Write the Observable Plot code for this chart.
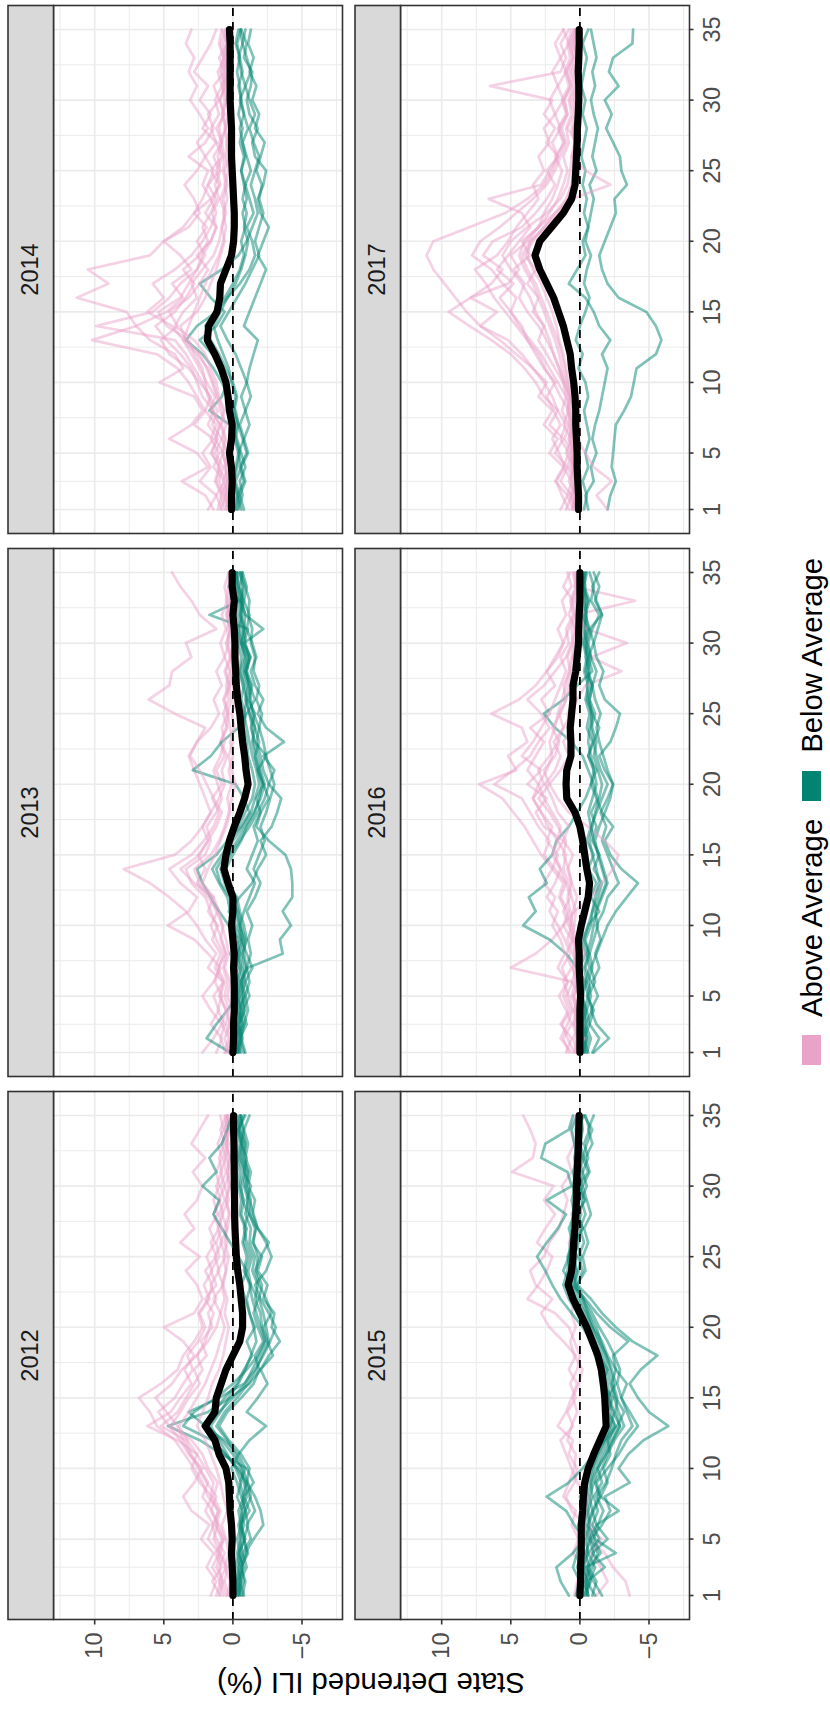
<!DOCTYPE html>
<html>
<head>
<meta charset="utf-8">
<script src="https://cdn.jsdelivr.net/npm/d3@7"></script>
<script src="https://cdn.jsdelivr.net/npm/@observablehq/plot@0.6"></script>
<style>
html, body { margin: 0; padding: 0; background: #fff; overflow: hidden; width: 830px; height: 1709px; }
#fig { position: absolute; left: 0; top: 0; width: 1709px; height: 830px; background: #fff;
  transform-origin: 0 0; transform: translate(0px, 1709px) rotate(-90deg);
  font-family: "Liberation Sans", Arial, Helvetica, sans-serif; }
#chart { position: absolute; left: 0; top: 0; }
#ytitle { position: absolute; left: 26px; top: 371px; transform: translate(-50%, -50%) rotate(-90deg);
  white-space: nowrap; font-size: 29.3px; color: #000; line-height: 1; }
#legend { position: absolute; left: 644px; top: 802px; height: 19px; display: flex; align-items: center; }
#legend .key { width: 30px; height: 19px; display: inline-block; }
#legend .lab { font-size: 29.3px; line-height: 19px; margin: 0 18px; color: #000; white-space: nowrap; }
</style>
</head>
<body>
<div id="fig">
  <div id="chart"></div>
  <div id="ytitle">State Detrended ILI (%)</div>
  <div id="legend"></div>
</div>
<script>
// ---------- data ----------
const groupNames = ["Above Average", "Below Average"];
const groupColors = ["#e9a3c9", "#018571"];
const years = [2012, 2013, 2014, 2015, 2016, 2017];
const weeks = [1,2,3,4,5,6,7,8,9,10,11,12,13,14,15,16,17,18,19,20,21,22,23,24,25,26,27,28,29,30,31,32,33,34,35];
const majorX = [1, 5, 10, 15, 20, 25, 30, 35];
const minorX = [3, 7.5, 12.5, 17.5, 22.5, 27.5, 32.5];
const majorY = [-5, 0, 5, 10];
const minorY = [-7.5, -2.5, 2.5, 7.5, 12.5];

const mean2012 = [0.0,0.0,0.05,0.1,0.05, 0.1,0.2,0.25,0.3,0.5, 1.0,1.3,2.0,1.3,1.2, 0.85,0.5,0.0,-0.5,-0.7, -0.7,-0.6,-0.5,-0.35,-0.25, -0.2,-0.15,-0.12,-0.12,-0.1, -0.1,-0.08,-0.08,-0.05,-0.05];
const above2012 = [
 [0.5,0.8,1.0,0.6,1.2, 1.5,1.0,1.8,2.2,2.8, 3.5,4.2,5.5,6.0,6.8, 5.2,4.0,3.6,2.8,2.2, 2.5,1.8,1.5,2.0,1.2, 1.6,1.0,1.4,0.9,1.2, 0.8,1.0,0.6,0.9,0.5],
 [1.2,0.9,1.5,1.0,1.8, 1.4,2.0,1.5,2.4,3.0, 2.6,4.0,6.2,4.5,3.8, 3.0,3.5,2.8,3.6,5.0, 2.8,2.2,2.6,3.4,2.4, 3.8,2.8,3.5,2.6,2.2, 2.9,2.0,3.0,2.4,1.8],
 [0.3,0.6,0.4,0.9,0.7, 1.2,0.9,1.4,1.1,1.8, 2.2,3.0,4.5,3.8,3.2, 2.4,2.8,1.9,2.3,1.5, 1.8,1.2,1.6,1.0,1.3, 0.8,1.1,0.7,1.0,0.6, 0.9,0.5,0.8,0.4,0.6],
 [1.6,1.2,1.9,1.4,2.3, 1.7,3.0,3.6,2.8,2.2, 3.2,3.8,4.6,5.4,4.2, 3.6,2.9,3.3,2.5,2.0, 2.4,1.7,2.1,1.5,1.9, 1.3,1.7,1.1,1.4,1.0, 1.2,0.8,1.1,0.7,0.9],
 [0.4,0.2,0.6,0.3,0.5, 0.8,0.4,0.7,0.9,1.2, 1.6,2.0,2.6,2.2,1.8, 1.5,1.0,0.7,0.5,0.3, 0.6,0.4,0.7,0.5,0.3, 0.6,0.4,0.2,0.5,0.3, 0.4,0.2,0.5,0.3,0.4],
 [0.9,1.5,0.8,1.3,0.6, 1.0,1.6,1.2,1.9,2.5, 3.1,3.6,4.0,4.8,5.6, 4.4,3.7,2.6,1.8,1.2, 0.9,1.4,0.7,1.1,0.5, 0.9,0.4,0.8,0.3,0.6, 0.2,0.5,0.3,0.6,0.4],
 [0.7,1.0,0.5,1.1,0.8, 1.3,1.1,1.6,1.4,2.0, 2.6,3.3,3.9,3.2,2.6, 2.0,1.6,1.2,0.9,0.6, 0.9,0.6,0.8,0.5,0.7, 0.4,0.6,0.3,0.5,0.2, 0.4,0.3,0.5,0.2,0.4],
 [1.0,0.7,1.2,0.9,1.4, 1.1,1.5,2.2,1.8,2.4, 3.0,3.4,5.2,4.0,3.4, 2.8,2.2,2.6,2.0,1.7, 1.4,2.0,1.2,1.6,1.0, 1.2,0.8,1.0,0.6,0.9, 0.5,0.7,0.4,0.6,0.3]
];
const below2012 = [
 [-0.5,-0.3,-0.8,-0.4,-0.9, -0.6,-1.2,-0.8,-1.5,-1.0, 0.8,2.4,4.7,1.8,0.2, -1.2,-2.0,-2.6,-3.4,-2.8, -3.0,-2.2,-2.5,-1.8,-2.1, -1.4,-1.7,-1.2,-1.0,-1.3, -0.8,-1.0,-0.6,-0.8,-0.5],
 [-0.2,-0.6,-0.4,-0.9,-1.5, -2.2,-2.0,-1.6,-1.0,-0.4, 0.6,1.4,2.0,3.2,1.0, -0.8,-1.6,-2.2,-2.7,-3.1, -2.6,-2.0,-1.6,-2.4,-2.8, -2.4,-1.8,-1.5,-1.2,-0.9, -1.1,-0.7,-0.9,-0.5,-0.3],
 [-0.8,-0.5,-1.0,-0.7,-1.3, -1.0,-1.6,-1.2,-0.9,-0.3, 0.5,1.5,3.6,2.8,1.2, 0.0,-1.0,-1.8,-2.3,-2.0, -1.7,-1.4,-1.2,-0.9,-1.2, -0.8,-1.0,-0.6,-0.8,-0.5, -0.7,-0.4,-0.6,-0.3,-0.5],
 [-0.4,-0.8,-0.6,-1.1,-0.8, -0.5,-0.9,-0.6,-0.3,0.1, -0.4,-1.2,-2.4,-1.0,-1.8, -2.5,-2.0,-2.9,-2.5,-2.2, -2.8,-2.4,-1.9,-1.6,-2.0, -2.6,-1.8,-1.4,-1.6,-1.1, -1.3,-0.9,-1.1,-0.8,-1.2],
 [-0.6,-0.4,-0.7,-0.5,-0.8, -0.6,-0.9,-0.7,-1.0,-1.2, -0.6,0.3,1.0,0.4,-0.6, -1.5,-1.9,-1.6,-2.2,-1.8, -1.5,-1.8,-1.3,-1.1,-1.4, -1.0,-0.8,-1.1,-0.7,-0.6, -0.9,-0.5,-0.7,-0.4,-0.8],
 [-0.3,-0.2,-0.5,-0.3,-0.6, -0.4,-0.7,-0.3,-0.6,-0.2, 0.4,1.0,1.6,0.9,0.3, -0.4,-0.9,-1.3,-1.7,-1.5, -1.2,-1.0,-1.3,-0.8,-1.0, -0.7,-0.9,-0.5,-0.6,-0.4, -0.5,-0.3,-0.5,-0.4,-0.9],
 [-0.2,-0.4,-0.1,-0.5,-0.3, -0.6,-0.4,-0.8,-0.5,-0.9, -0.4,0.6,2.2,1.4,0.6, -0.3,-0.8,-1.4,-1.0,-1.6, -1.2,-0.9,-0.6,-1.0,-0.4, 0.2,0.8,1.4,1.0,2.2, 1.2,1.7,0.8,0.4,0.1],
 [-0.4,-0.6,-0.3,-0.7,-0.5, -0.8,-0.6,-1.0,-0.8,-0.6, 0.0,0.8,1.8,1.0,0.0, -0.9,-1.4,-1.9,-2.4,-2.1, -2.0,-1.6,-1.8,-1.4,-1.6, -1.2,-1.3,-0.9,-1.1,-0.8, -0.9,-0.6,-0.7,-0.5,-0.6],
 [-0.7,-0.9,-0.6,-1.0,-0.8, -1.1,-0.9,-1.3,-1.1,-0.7, -0.2,0.4,1.2,0.6,-0.3, -1.1,-1.7,-2.1,-2.6,-2.4, -2.2,-1.9,-2.1,-1.7,-1.8, -1.5,-1.6,-1.2,-1.3,-1.0, -1.1,-0.8,-0.9,-0.7,-0.6]
];

const mean2013 = [0.0,-0.05,-0.05,-0.1,-0.1, -0.1,-0.05,-0.1,0.0,0.1, 0.0,0.0,0.35,0.65,0.5, 0.25,-0.1,-0.5,-0.85,-1.1, -0.95,-0.85,-0.7,-0.6,-0.5, -0.35,-0.25,-0.2,-0.15,-0.15, -0.1,0.0,-0.1,0.05,0.05];
const above2013 = [
 [1.2,0.8,1.6,1.0,1.4, 0.7,1.8,1.2,2.0,2.6, 3.4,4.6,6.0,7.9,4.2, 3.0,2.2,1.6,1.0,0.6, 0.8,0.4,0.9,0.5,0.3, 0.6,0.2,0.5,0.1,0.4, 0.2,0.5,0.3,0.1,0.3],
 [0.5,0.9,0.6,1.1,0.8, 1.3,1.0,0.7,1.2,1.6, 1.1,1.8,2.6,2.0,2.5, 1.8,2.2,1.6,2.0,2.4, 2.8,3.2,2.6,2.0,4.2, 6.1,4.6,4.4,3.0,3.4, 1.2,2.4,3.0,3.8,4.4],
 [2.2,1.4,0.8,1.6,2.2, 1.4,0.9,1.8,2.8,4.7, 3.2,2.6,3.8,4.6,3.0, 2.1,1.4,1.0,1.5,0.8, 1.2,0.6,0.9,0.4,0.7, 0.3,0.5,0.2,0.6,0.3, 0.4,0.2,0.5,0.3,0.2],
 [0.3,0.6,0.2,0.5,0.9, 0.6,1.1,0.5,0.8,1.2, 1.6,2.0,3.0,3.4,2.0, 1.6,1.9,1.2,0.8,1.1, 1.4,0.9,0.6,0.8,0.4, 0.7,0.3,0.6,0.2,0.5, 0.1,0.4,0.2,0.0,0.3],
 [0.1,-0.2,0.3,0.0,0.4, 0.2,0.6,0.3,0.5,0.8, 1.0,1.4,2.2,1.8,1.3, 0.9,0.5,0.2,0.4,0.1, 0.3,0.0,0.2,-0.1,0.1, -0.2,0.0,0.2,-0.1,0.1, 0.0,-0.2,0.1,-0.1,0.2],
 [0.6,0.3,0.8,0.5,1.0, 0.7,1.3,0.9,1.5,1.1, 1.8,1.4,2.8,3.8,2.4, 1.8,1.2,0.8,1.4,1.9, 2.4,3.1,2.6,1.6,1.0, 1.4,0.8,1.2,0.6,0.9, 0.5,0.8,0.4,0.6,0.3],
 [0.4,0.2,0.5,0.3,0.6, 0.4,0.7,0.5,0.9,0.7, 1.2,1.6,2.4,2.8,1.6, 1.0,0.6,0.3,0.1,-0.2, 0.1,0.3,0.0,0.2,0.4, 0.1,0.3,-0.1,0.2,0.0, 0.2,0.4,0.1,0.3,0.1]
];
const below2013 = [
 [-0.3,-0.6,-0.4,-0.9,-0.7, -0.5,-1.1,-3.6,-3.4,-4.2, -3.6,-4.3,-4.3,-4.2,-3.8, -2.6,-1.7,-2.0,-2.6,-2.2, -1.8,-2.4,-1.6,-1.3,-1.6, -1.1,-1.3,-0.9,-1.1,-0.7, -0.9,-0.6,-0.8,-0.5,-0.7],
 [-0.8,-0.5,-1.0,-0.7,-1.2, -0.9,-1.4,-1.0,-0.6,-0.2, 0.3,-0.5,-1.4,-1.8,-2.4, -2.0,-2.8,-3.2,-3.5,-2.6, -3.0,-2.2,-3.7,-2.4,-1.8, -2.2,-1.6,-1.3,-1.7,-1.4, -1.0,-1.2,-0.8,-1.0,-0.7],
 [0.2,1.9,1.2,0.4,-0.3, 0.1,-0.4,0.2,-0.5,0.3, 1.0,1.6,2.2,2.6,1.2, 0.4,-0.6,-1.2,-0.8,-0.2, 2.9,1.6,0.8,-0.4,-1.0, -1.6,-1.2,-0.9,-1.3,-0.8, -1.1,1.7,-0.5,0.3,-0.2],
 [-0.5,-0.3,-0.7,-0.4,-0.8, -0.6,-0.9,-0.7,-1.0,-0.8, -0.5,-0.3,0.4,0.8,0.2, -0.5,-1.2,-1.8,-2.3,-2.6, -2.2,-2.0,-1.7,-1.9,-1.5, -1.2,-1.4,-1.0,-1.2,-0.8, -2.2,-0.9,-0.6,-0.8,-0.5],
 [-0.2,-0.5,-0.3,-0.6,-0.4, -0.7,-0.5,-0.3,-0.6,-0.4, -0.2,0.2,0.9,1.2,0.6, 0.0,-0.7,-1.3,-1.6,-1.9, -1.7,-1.4,-1.2,-1.0,-0.8, -1.0,-0.7,-0.5,-0.8,-0.6, -0.4,-0.7,-0.5,-0.3,-0.2],
 [-0.9,-0.6,-0.8,-1.1,-0.9, -1.2,-1.0,-1.3,-1.1,-1.4, -1.0,-1.6,-2.0,-1.5,-1.9, -2.3,-2.0,-2.4,-2.7,-3.0, -2.7,-2.4,-2.2,-1.9,-2.1, -1.7,-1.9,-1.5,-1.6,-1.3, -1.4,-1.1,-1.2,-0.9,-0.6],
 [-0.4,-0.2,-0.6,-0.3,-0.5, -0.3,-0.6,-0.4,-0.7,-0.5, -0.8,-1.2,-1.6,-1.0,-1.4, -1.8,-1.5,-2.0,-1.7,-2.2, -1.9,-1.6,-1.4,-1.6,-1.2, -0.9,-1.1,-0.8,-1.0,-0.6, -0.8,-0.5,-0.7,-0.4,-0.3],
 [-0.4,-0.7,-0.5,-0.8,-0.6, -0.9,-0.7,-0.6,-0.8,-0.5, -0.3,0.1,0.6,0.9,0.3, -0.3,-0.9,-1.5,-2.0,-2.3, -2.0,-1.8,-1.5,-1.4,-1.2, -1.0,-0.9,-0.7,-0.9,-0.6, -0.7,-0.5,-0.6,-0.4,-0.3],
 [-0.6,-0.4,-0.8,-0.5,-0.9, -0.7,-1.0,-0.8,-0.9,-0.6, -0.4,-0.1,0.2,0.5,0.0, -0.6,-1.0,-1.6,-1.9,-2.1, -1.8,-1.6,-1.9,-1.6,-1.4, -1.3,-1.1,-1.0,-1.2,-0.9, -0.8,-0.9,-0.6,-0.7,-0.5],
 [-0.3,-0.2,-0.4,-0.6,-0.3, -0.5,-0.2,-0.5,-0.3,-0.1, 0.2,0.4,1.0,1.5,0.8, 0.2,-0.4,-0.9,-1.4,-1.6, -1.4,-1.1,-1.0,-0.8,-0.9, -0.6,-0.8,-0.5,-0.6,-0.4, -0.5,-0.3,-0.4,-0.2,-0.3]
];

const mean2014 = [0.1,0.1,0.05,0.1,0.25, 0.1,0.05,0.25,0.35,0.5, 0.85,1.3,1.85,1.75,1.15, 0.95,0.9,0.5,0.1,-0.05, -0.1,-0.1,-0.05,0.0,0.05, 0.1,0.1,0.1,0.15,0.2, 0.2,0.2,0.2,0.2,0.25];
const above2014 = [
 [0.8,1.2,0.6,1.4,1.0, 1.6,1.2,2.0,2.6,3.2, 4.0,5.5,10.2,7.0,7.7, 11.3,9.0,10.5,6.0,5.0, 3.6,2.8,2.2,1.8,1.4, 2.0,1.2,1.6,1.0,1.3, 0.8,1.1,0.6,0.9,0.5],
 [1.4,2.0,3.7,1.8,2.6, 4.6,3.0,2.2,2.8,5.3, 3.6,4.2,6.0,7.0,4.8, 3.6,4.4,3.0,3.8,5.0, 3.2,2.4,2.8,3.5,2.6, 2.0,2.6,1.8,2.4,3.1, 2.6,3.2,2.8,3.4,3.0],
 [0.4,0.7,1.2,0.9,1.6, 1.1,1.8,1.4,2.2,2.6, 3.0,3.8,4.8,5.6,4.2, 3.4,2.8,3.6,2.4,1.8, 2.2,1.6,1.2,1.8,1.0, 1.4,0.8,1.2,0.6,1.0, 0.5,0.8,0.4,0.7,0.3],
 [1.8,1.2,2.4,1.6,2.2, 1.4,2.8,2.0,1.6,2.4, 3.2,4.6,5.2,4.0,4.6, 3.2,2.4,1.8,2.6,1.6, 1.2,2.0,1.4,1.0,1.6, 0.8,1.2,2.2,1.6,2.4, 1.8,2.8,2.2,1.6,1.2],
 [0.2,0.5,0.3,0.6,0.4, 0.8,0.5,0.9,1.2,1.5, 1.9,2.4,3.4,3.8,2.6, 2.0,1.6,1.2,0.9,0.6, 0.8,0.5,0.7,0.4,0.6, 0.3,0.5,0.2,0.4,0.2, 0.3,0.1,0.4,0.2,0.3],
 [0.9,0.5,1.0,0.7,1.3, 0.8,1.5,1.1,1.7,2.2, 2.8,3.4,4.2,9.9,5.8, 4.6,3.8,2.6,2.0,2.6, 1.9,2.8,1.6,2.2,1.8, 3.2,2.0,1.4,1.8,1.0, 1.4,0.6,1.0,0.4,0.8],
 [0.6,0.9,0.4,1.1,0.7, 1.3,0.9,1.6,1.3,1.9, 2.4,3.0,3.6,4.4,6.2, 5.0,5.8,4.2,3.0,2.2, 1.6,1.2,1.6,0.9,1.2, 0.7,1.0,0.5,0.8,0.4, 0.7,0.3,0.6,0.2,0.4],
 [0.5,0.3,0.7,0.4,0.8, 0.6,0.9,0.7,1.1,1.4, 1.8,2.6,3.6,3.2,2.8, 2.4,2.0,1.5,1.0,0.7, 0.5,0.7,0.4,0.6,0.3, 0.5,0.4,0.6,0.3,0.5, 0.4,0.6,0.3,0.5,0.4],
 [0.3,0.6,0.4,0.5,0.7, 0.5,0.8,0.6,1.0,1.2, 1.6,2.0,2.8,4.2,3.6, 2.6,3.0,2.2,1.4,1.0, 0.8,0.6,0.9,0.5,0.7, 0.6,0.8,0.5,0.7,0.6, 0.8,0.5,0.7,0.4,0.6],
 [1.1,0.8,1.3,1.0,1.5, 1.2,1.0,1.4,1.8,2.0, 2.2,2.8,3.2,4.8,5.4, 3.8,3.2,2.6,2.2,1.6, 1.2,1.5,1.0,1.3,0.9, 1.1,0.8,1.0,0.7,0.9, 0.6,0.9,0.7,1.0,0.8]
];
const below2014 = [
 [-0.3,-0.5,-0.2,-0.6,-0.4, -0.8,-0.5,-0.9,-0.6,-1.0, -1.2,-1.5,-1.8,-0.8,-1.2, -1.6,-2.0,-2.4,-1.8,-2.2, -2.6,-2.0,-1.8,-2.2,-2.4, -1.6,-1.4,-1.8,-1.2,-1.0, -1.3,-1.4,-0.8,-1.0,-0.6],
 [-0.6,-0.3,-0.8,-0.5,-1.0, -0.7,-0.4,-0.2,0.3,0.8, 1.4,2.2,3.4,2.6,1.2, 0.4,-0.5,-1.2,-1.6,-1.4, -1.0,-1.5,-1.2,-0.9,-1.3, -1.0,-0.7,-1.1,-0.8,-0.5, -0.9,-0.6,-0.4,-0.7,-0.5],
 [-0.4,-0.7,-0.5,-0.9,-0.6, -0.3,0.2,1.7,0.8,0.4, 0.9,1.5,2.4,1.2,0.6, 1.6,2.4,0.8,-0.4,-1.0, -1.4,-1.8,-1.6,-1.3,-1.6, -1.9,-1.5,-1.2,-1.6,-1.2, -0.9,-1.3,-1.0,-0.7,-0.9],
 [-0.8,-0.5,-0.9,-0.6,-1.1, -0.8,-1.2,-0.9,-1.3,-1.0, -0.6,-0.2,0.4,0.9,0.3, -0.3,-0.9,-1.4,-1.9,-1.6, -1.9,-2.2,-1.9,-2.1,-1.7, -2.0,-2.3,-1.6,-1.9,-1.4, -1.7,-1.2,-1.5,-1.1,-1.3],
 [-0.2,-0.4,-0.1,-0.3,-0.5, -0.2,-0.4,-0.1,-0.3,0.0, 0.5,1.0,1.6,2.0,1.3, 0.6,0.0,-0.5,-0.8,-0.6, -0.9,-0.7,-1.0,-0.8,-0.6, -0.9,-0.7,-0.5,-0.8,-0.6, -0.4,-0.7,-0.5,-0.3,-0.6],
 [-0.1,-0.3,0.0,-0.2,-0.4, -0.1,-0.3,0.0,-0.2,0.1, 0.3,0.7,1.1,1.4,0.9, 0.4,-0.2,-0.6,-0.9,-1.1, -0.8,-1.0,-0.7,-0.9,-0.6, -0.8,-0.5,-0.7,-0.4,-0.6, -0.5,-0.3,-0.5,-0.2,-0.4]
];

const mean2015 = [0.0,-0.05,-0.05,-0.1,-0.1, -0.1,-0.2,-0.25,-0.35,-0.6, -1.0,-1.45,-1.9,-1.85,-1.8, -1.7,-1.55,-1.3,-0.9,-0.5, 0.0,0.5,0.85,0.6,0.5, 0.45,0.35,0.3,0.25,0.25, 0.2,0.15,0.1,0.08,0.05];
const above2015 = [
 [-3.6,-3.3,-2.4,-1.8,-0.6, -0.9,-0.3,-0.7,0.2,0.6, 1.0,1.4,0.5,0.9,0.3, 0.7,0.2,0.0,0.4,0.8, 1.8,3.8,3.0,2.4,2.0, 3.1,2.5,1.8,2.6,1.9, 4.9,3.4,3.2,3.6,4.1],
 [-1.2,-2.0,-1.5,-0.8,-1.6, -0.4,0.6,1.0,0.4,0.2, 0.8,0.5,1.6,1.0,0.6, 0.2,0.8,0.3,1.2,2.2, 2.8,2.0,3.2,3.6,2.6, 2.2,1.5,1.2,0.9,1.3, 0.6,0.9,0.4,0.7,0.3],
 [0.4,0.2,-0.3,0.5,0.1, 0.6,0.3,1.2,0.8,0.4, 0.3,0.9,0.6,0.2,0.5, 0.1,-0.2,0.4,0.7,0.3, 0.6,0.4,1.0,0.7,0.5, 0.8,0.3,0.6,0.2,0.5, 0.3,0.1,0.4,0.2,0.3]
];
const below2015 = [
 [-0.6,-0.4,-0.9,-1.3,-0.8, -1.6,-2.2,-1.8,-3.6,-2.8, -3.5,-4.6,-6.4,-5.0,-4.2, -3.6,-4.4,-5.6,-3.8,-2.6, -1.6,-0.8,0.2,-0.4,-0.2, -0.6,-0.3,-0.8,-0.5,-0.2, -0.7,-0.4,-0.9,-0.6,-1.0],
 [-1.1,-0.5,-1.8,-0.9,-2.0, -1.2,-2.8,-1.5,-1.2,-2.0, -2.8,-3.4,-4.2,-3.6,-3.0, -3.4,-2.6,-2.4,-3.5,-2.2, -1.2,-0.4,0.6,1.2,0.8, 0.4,-0.2,0.3,-0.4,0.1, -0.6,-0.2,-0.5,-0.9,-0.3],
 [0.8,1.4,1.7,0.5,-0.3, 0.4,1.0,2.4,0.8,-0.2, -1.0,-1.8,-2.6,-2.0,-2.4, -1.6,-2.0,-1.4,-0.8,-0.2, 0.6,1.4,2.0,2.5,3.1, 2.4,1.6,1.0,2.4,0.6, 0.9,2.8,2.5,0.8,0.5],
 [-0.3,-0.8,-0.5,-1.0,-0.7, -1.2,-0.9,-1.4,-1.1,-1.6, -2.0,-2.5,-3.2,-2.8,-2.5, -2.2,-2.0,-1.7,-1.3,-0.9, -0.5,0.0,0.4,0.2,0.5, 0.1,0.3,-0.1,0.2,-0.2, 0.1,-0.3,0.0,-0.2,-0.1],
 [-0.9,-1.2,-0.6,-1.5,-1.0, -1.3,-1.7,-1.2,-1.9,-2.3, -2.6,-3.0,-3.8,-3.4,-3.0, -2.7,-2.9,-2.5,-2.0,-1.4, -0.9,-0.3,0.2,-0.2,0.1, -0.3,0.0,-0.4,-0.1,-0.5, -0.2,-0.6,-0.3,-0.7,-0.4],
 [0.3,0.0,0.5,0.2,-0.2, 0.1,-0.4,0.0,-0.6,-0.9, -1.3,-1.8,-2.2,-2.5,-2.1, -1.8,-1.5,-1.2,-0.9,-0.4, 0.1,0.6,1.0,0.7,0.9, 0.5,0.8,0.4,0.6,0.3, 0.5,0.2,0.4,0.6,0.2],
 [-1.6,-1.0,-0.4,-2.6,-1.1, -0.6,-1.0,-1.5,-2.0,-1.7, -2.2,-2.0,-2.7,-3.2,-2.6, -2.3,-2.6,-2.0,-1.6,-1.0, -0.6,-0.2,0.4,0.1,-0.1, 0.3,-0.2,0.1,-0.3,0.0, -0.2,0.1,-0.1,0.2,-0.3],
 [-0.5,-0.7,-1.1,-0.6,-1.4, -0.9,-1.3,-1.0,-1.6,-1.3, -1.9,-2.4,-2.9,-2.4,-2.0, -2.6,-2.3,-1.9,-1.5,-1.2, -0.7,-0.2,0.3,0.5,0.2, 0.6,0.2,0.5,0.1,0.4, 0.0,0.3,-0.1,0.2,0.0],
 [-0.2,-0.5,-0.3,-0.6,-0.4, -0.7,-0.6,-0.9,-0.8,-1.2, -1.6,-2.1,-2.5,-2.2,-2.2, -2.0,-1.8,-1.5,-1.1,-0.7, -0.2,0.3,0.7,0.5,0.6, 0.3,0.5,0.2,0.4,0.2, 0.3,0.0,0.2,0.1,0.0],
 [-0.6,-0.3,-0.7,-0.4,-0.8, -0.5,-0.9,-0.7,-1.0,-1.3, -1.8,-2.3,-2.9,-2.6,-2.7, -2.4,-2.2,-1.9,-1.4,-0.9, -0.4,0.2,0.6,0.3,0.4, 0.2,0.4,0.1,0.3,0.0, 0.2,-0.1,0.1,-0.1,0.0],
 [0.1,-0.2,0.2,-0.1,-0.3, 0.0,-0.2,-0.4,-0.3,-0.7, -1.1,-1.6,-2.0,-1.8,-1.7, -1.5,-1.4,-1.1,-0.8,-0.3, 0.2,0.8,1.2,0.9,0.8, 0.7,0.6,0.5,0.4,0.5, 0.3,0.4,0.2,0.3,0.1],
 [-0.4,-0.6,-0.2,-0.5,-0.6, -0.3,-0.6,-0.5,-0.8,-1.0, -1.4,-1.9,-2.3,-2.0,-1.9, -1.8,-1.6,-1.4,-1.0,-0.6, -0.1,0.4,0.9,0.7,0.6, 0.5,0.3,0.4,0.2,0.3, 0.1,0.2,0.0,0.1,-0.1]
];

const mean2016 = [0.0,0.0,0.0,0.0,-0.05, 0.0,0.05,0.05,0.1,-0.1, -0.35,-0.6,-0.7,-0.5,-0.35, -0.2,0.0,0.35,0.95,1.0, 0.95,0.65,0.65,0.7,0.6, 0.5,0.5,0.3,0.2,0.1, 0.08,0.05,0.0,0.0,0.0];
const above2016 = [
 [0.8,1.2,0.6,1.0,1.5, 0.9,1.3,0.7,1.1,1.6, 2.2,1.8,2.6,2.0,2.8, 3.4,4.0,4.8,5.6,7.3, 4.6,5.2,3.8,4.2,6.4, 4.4,3.2,2.4,1.8,1.2, 0.8,0.4,0.6,0.2,0.4],
 [0.4,0.9,1.3,0.6,1.0, 0.5,5.0,3.2,2.0,1.2, 0.8,1.4,1.0,1.8,2.6, 2.2,3.0,3.6,4.2,6.2, 4.8,3.6,3.0,2.2,2.8, 3.8,2.6,1.8,1.0,0.6, 0.3,0.8,0.5,1.2,0.7],
 [0.2,0.5,0.1,0.4,0.0, 0.6,0.2,0.5,0.9,0.6, 1.0,1.5,1.2,2.0,1.6, 2.4,2.0,2.8,3.4,2.6, 3.0,2.2,1.6,1.2,0.6, 0.2,-0.4,-3.0,-0.8,-3.4, -0.5,0.3,-4.0,0.4,0.2],
 [1.0,0.6,1.4,0.8,1.2, 0.9,1.6,1.1,1.4,2.0, 1.6,2.4,1.8,1.4,2.0, 1.6,2.3,2.8,3.4,3.0, 3.8,3.2,2.6,3.6,2.2, 2.8,1.8,2.4,1.6,1.2, 1.6,1.0,1.3,0.6,0.9],
 [0.3,0.1,0.4,0.2,0.6, 0.3,0.5,0.2,0.4,0.7, 0.5,0.2,0.6,0.9,0.5, 1.2,0.8,1.6,2.0,2.5, 1.8,1.4,1.9,1.2,1.5, 1.0,1.2,0.7,0.9,0.5, 0.6,0.3,0.5,0.2,0.3],
 [0.6,1.4,0.9,0.5,0.8, 1.2,0.6,1.0,0.5,0.8, 1.2,0.7,1.0,1.4,1.8, 1.2,2.6,3.2,2.4,3.8, 2.8,4.2,3.4,2.8,2.2, 1.8,1.4,1.0,1.4,0.8, 1.0,0.5,0.7,0.3,0.5],
 [0.2,-0.3,0.4,0.0,0.5, -0.2,0.3,-0.4,0.6,1.2, 0.4,-0.8,-1.6,-2.4,-2.8, -1.8,-0.6,0.8,1.6,2.2, 1.4,0.8,1.2,0.6,0.9, 0.4,0.7,0.2,0.5,0.1, 0.4,0.0,0.3,-0.1,0.2],
 [0.4,0.2,0.5,0.3,0.4, 0.2,0.5,0.3,0.6,0.4, 0.3,0.6,0.8,1.2,1.0, 1.6,1.4,2.0,2.6,3.0, 2.4,2.0,2.2,1.8,1.6, 1.3,1.0,0.8,0.6,0.4, 0.3,0.2,0.3,0.1,0.2],
 [0.1,0.3,0.2,0.4,0.1, 0.3,0.2,0.4,0.3,0.5, 0.7,0.9,0.6,0.8,1.2, 1.0,1.6,2.2,3.0,2.2, 2.6,1.8,1.5,2.0,1.4, 1.0,0.8,0.6,0.5,0.3, 0.2,0.3,0.1,0.2,0.1]
];
const below2016 = [
 [-0.5,-0.8,-0.4,-0.9,-0.6, -1.1,-0.8,-1.2,-1.6,-2.0, -2.6,-3.4,-4.2,-3.0,-2.2, -1.8,-2.4,-1.6,-1.2,-0.8, -1.0,-0.6,-0.9,-0.5,-0.7, -0.4,-0.6,-0.3,-0.5,-0.2, -0.4,-0.3,-0.6,-0.2,-0.4],
 [-0.3,-0.6,-0.2,-0.5,-0.1, -0.4,0.2,1.0,2.2,4.1, 3.2,3.7,2.4,2.9,2.0, 1.7,0.8,0.2,-0.4,-0.8, -1.2,-0.6,-1.0,-1.4,-0.9, -0.5,-0.8,-0.4,-0.6,-0.3, -0.5,-0.2,-0.4,-0.1,-0.3],
 [-1.0,-2.1,-1.2,-0.8,-1.3, -0.9,-1.4,-1.1,-1.5,-1.2, -1.7,-2.0,-2.8,-2.4,-2.0, -1.6,-1.9,-1.5,-2.0,-2.4, -1.8,-1.4,-2.2,-2.6,-2.9, -1.8,-1.4,-1.7,-1.2,-1.0, -1.3,-1.6,-1.1,-1.4,-1.0],
 [-0.2,-0.4,-0.1,-0.3,0.1, -0.2,0.0,-0.4,-0.2,-0.6, -0.9,-1.3,-1.6,-1.0,-1.4, -0.9,-1.2,-0.8,-1.3,-1.0, -0.6,-0.2,0.6,1.8,2.6, 1.2,0.2,-0.9,-0.6,-1.0, -0.7,-0.4,-0.7,-0.3,-0.5],
 [-0.6,-0.3,-0.7,-0.5,-0.8, -0.6,-0.9,-0.7,-1.0,-1.3, -1.1,-1.5,-1.9,-1.6,-1.3, -1.1,-1.4,-1.8,-2.2,-2.4, -2.0,-1.7,-1.4,-1.2,-1.5, -1.1,-0.9,-1.2,-0.8,-0.6, -0.9,-1.4,-0.8,-1.0,-0.7],
 [-0.9,-1.4,-0.7,-1.0,-0.5, -0.8,-0.4,-0.7,-0.3,-0.6, -1.4,-0.8,-1.2,-0.6,-1.0, -0.5,-0.8,-1.2,-1.6,-2.0, -1.5,-1.2,-1.0,-0.8,-1.1, -0.7,-0.9,-0.6,-0.8,-0.5, -0.7,-1.6,-1.2,-0.9,-1.4],
 [-0.4,-0.2,-0.5,-0.3,-0.6, -0.4,-0.7,-0.5,-0.8,-1.0, -1.2,-1.6,-2.0,-1.7,-1.4, -1.0,-0.8,-0.6,-0.9,-1.2, -1.0,-0.8,-0.6,-0.7,-0.9, -0.6,-0.5,-0.7,-0.4,-0.5, -0.3,-0.5,-0.3,-0.4,-0.2],
 [-0.3,-0.5,-0.3,-0.4,-0.2, -0.5,-0.3,-0.6,-0.4,-0.8, -0.9,-1.1,-1.4,-1.2,-0.9, -0.7,-0.9,-1.1,-1.4,-1.6, -1.3,-1.0,-1.2,-0.9,-0.8, -0.7,-0.9,-0.5,-0.6,-0.4, -0.6,-0.4,-0.5,-0.3,-0.4]
];

const mean2017 = [0.1,0.1,0.15,0.2,0.2, 0.25,0.3,0.3,0.35,0.45, 0.6,0.7,0.95,1.2,1.55, 1.9,2.4,2.9,3.25,2.9, 2.05,1.2,0.6,0.35,0.3, 0.25,0.2,0.18,0.12,0.08, 0.08,0.12,0.08,0.05,0.05];
const above2017 = [
 [0.5,0.9,0.6,1.2,0.8, 1.4,1.0,1.6,2.0,2.6, 3.4,4.6,5.8,7.2,8.2, 9.0,9.8,10.6,11.1,10.6, 8.0,5.4,3.8,2.6,2.0, 1.6,1.2,1.6,1.0,1.3, 0.8,1.1,0.7,0.9,0.6],
 [1.0,0.6,1.4,0.9,1.8, 1.2,2.2,1.6,2.6,3.2, 4.0,5.0,6.4,8.0,9.5, 7.9,6.4,5.6,7.0,6.3, 4.2,3.2,2.4,1.8,2.4, 1.6,2.0,1.4,1.8,1.2, 1.6,1.0,1.4,0.8,1.2],
 [0.3,0.7,0.4,0.9,0.6, 1.1,0.8,1.3,1.0,1.6, 2.2,2.8,3.6,4.4,5.0, 5.8,4.8,6.0,5.2,4.4, 3.6,4.2,6.6,2.8,2.2, 1.6,2.4,1.8,2.6,2.0, 6.5,1.4,1.0,1.4,0.8],
 [0.8,1.3,1.7,1.1,1.5, 2.0,1.4,1.9,2.4,1.8, 2.6,3.2,3.8,4.6,5.4, 6.2,6.8,7.6,6.0,5.2, 4.6,3.8,3.0,3.4,2.6, 3.0,2.2,2.6,1.8,2.2, 1.6,2.0,1.4,1.8,1.2],
 [0.2,0.5,0.3,0.6,0.4, 0.8,0.5,0.9,0.7,1.1, 1.5,1.9,2.4,3.0,3.8, 4.4,4.0,4.8,3.6,4.2, 3.0,2.2,1.6,1.2,0.9, 1.2,0.8,1.0,0.6,0.8, 0.5,0.7,0.4,0.6,0.3],
 [-2.0,-1.2,-2.3,-1.0,-0.4, 0.2,0.6,0.3,0.8,1.2, 1.8,2.4,3.0,2.6,3.4, 3.0,3.8,3.2,4.0,3.4, 2.6,1.8,0.6,-2.2,-0.4, 0.6,0.2,0.9,0.4,0.7, 0.3,0.6,0.2,0.5,0.1],
 [0.6,0.3,0.8,0.4,1.0, 0.6,1.2,0.8,1.4,1.9, 2.5,3.0,3.8,4.2,5.0, 4.6,5.6,6.4,7.8,7.2, 5.8,4.6,3.4,2.4,1.8, 1.4,1.0,1.3,0.9,1.1, 0.7,0.9,0.5,0.7,0.4],
 [1.4,0.9,1.8,1.2,2.2, 1.6,2.6,2.0,3.0,2.4, 3.4,4.2,5.2,7.2,6.0, 7.9,5.2,4.4,5.0,3.8, 3.0,2.6,2.0,1.6,1.3, 1.8,1.1,1.5,0.9,1.2, 0.6,1.0,0.5,0.8,0.4],
 [0.4,0.6,0.3,0.7,0.5, 0.8,0.6,0.9,0.8,1.0, 1.3,1.5,1.8,2.2,2.6, 3.0,3.4,4.0,4.4,4.0, 3.0,1.8,1.0,0.6,0.5, 0.4,0.3,0.5,0.2,0.4, 0.2,0.3,0.2,0.4,0.2],
 [0.2,0.4,0.2,0.5,0.3, 0.6,0.4,0.7,0.6,0.8, 1.0,1.2,1.5,1.7,2.0, 2.4,2.8,3.4,3.8,3.6, 2.6,1.6,0.9,0.6,0.4, 0.3,0.4,0.2,0.3,0.1, 0.2,0.3,0.1,0.2,0.1],
 [0.5,0.3,0.6,0.4,0.7, 0.5,0.8,0.7,1.0,1.2, 1.5,1.9,2.2,2.6,3.2, 3.6,4.2,5.0,5.6,5.0, 3.8,2.4,1.4,0.9,0.7, 0.6,0.4,0.6,0.3,0.5, 0.3,0.4,0.2,0.4,0.3],
 [0.3,0.2,0.4,0.3,0.5, 0.4,0.6,0.5,0.7,0.9, 1.1,1.3,1.6,2.0,2.4, 2.8,3.2,3.8,4.2,3.6, 2.4,1.4,0.8,0.5,0.4, 0.3,0.2,0.4,0.2,0.3, 0.1,0.2,0.3,0.2,0.1]
];
const below2017 = [
 [-2.0,-2.2,-2.6,-2.3,-2.4, -2.5,-2.6,-3.2,-3.7,-3.9, -4.1,-5.5,-5.9,-5.5,-4.8, -2.8,-2.0,-1.6,-1.4,-1.8, -2.2,-2.6,-2.5,-3.4,-3.0, -2.9,-2.4,-1.9,-2.3,-1.8, -2.8,-2.1,-2.4,-3.8,-3.85],
 [-0.6,-0.4,-1.0,-0.8,-1.2, -0.9,-1.1,-1.4,-1.6,-1.8, -2.0,-1.6,-2.2,-1.4,-1.0, -0.4,0.8,0.2,-0.4,-0.2, -0.6,-0.8,-1.0,-0.7,-1.2, -0.9,-1.1,-1.3,-1.0,-0.8, -1.1,-0.9,-1.2,-1.0,-0.8],
 [-0.3,-0.5,-0.2,-0.6,-0.4, -0.7,-0.5,-0.3,-0.6,-0.4, 0.1,-0.2,0.3,0.0,-0.4, -0.7,-0.3,-0.5,-0.8,-0.4, -0.6,-0.3,-0.5,-0.2,-0.4, -0.1,-0.3,-0.5,-0.2,-0.4, -0.1,-0.3,-0.5,-0.2,-0.6]
];

// ---------- tables built from the arrays ----------
const panels = [
  {year: 2012, mean: mean2012, above: above2012, below: below2012},
  {year: 2013, mean: mean2013, above: above2013, below: below2013},
  {year: 2014, mean: mean2014, above: above2014, below: below2014},
  {year: 2015, mean: mean2015, above: above2015, below: below2015},
  {year: 2016, mean: mean2016, above: above2016, below: below2016},
  {year: 2017, mean: mean2017, above: above2017, below: below2017}
];
const stateRows = [], meanRows = [], stripRows = [];
panels.forEach(p => {
  const idx = years.indexOf(p.year);
  const col = idx % 3, row = Math.floor(idx / 3);
  stripRows.push({year: p.year, col, row});
  const n = Math.max(p.above.length, p.below.length);
  for (let i = 0; i < n; i++) {
    [[p.above[i], groupNames[0], "a"], [p.below[i], groupNames[1], "b"]].forEach(([vals, g, tag]) => {
      if (!vals) return;
      vals.forEach((v, k) => stateRows.push({col, row, id: p.year + tag + i, group: g, week: weeks[k], value: v}));
    });
  }
  p.mean.forEach((v, k) => meanRows.push({col, row, week: weeks[k], value: v}));
});

// ---------- chart ----------
const chart = Plot.plot({
  width: 1709,
  height: 830,
  marginTop: 53,
  marginBottom: 141,
  marginLeft: 89,
  marginRight: 6,
  style: {fontFamily: '"Liberation Sans", Arial, Helvetica, sans-serif', background: "white", overflow: "visible"},
  fx: {domain: [0, 1, 2], paddingInner: 0.02762, paddingOuter: 0, axis: null, round: false},
  fy: {domain: [0, 1], paddingInner: 0.16715, paddingOuter: 0, axis: null, round: false},
  x: {domain: [-0.7, 36.7]},
  y: {domain: [-7.93, 12.98]},
  color: {domain: groupNames, range: groupColors},
  marks: [
    Plot.ruleX(minorX, {stroke: "#ebebeb", strokeWidth: 1}),
    Plot.ruleY(minorY, {stroke: "#ebebeb", strokeWidth: 1}),
    Plot.ruleX(majorX, {stroke: "#ebebeb", strokeWidth: 1.7}),
    Plot.ruleY(majorY, {stroke: "#ebebeb", strokeWidth: 1.7}),
    Plot.line(stateRows, {fx: "col", fy: "row", x: "week", y: "value", z: "id", stroke: "group",
      strokeOpacity: 0.5, strokeWidth: 2.7, strokeLinejoin: "round"}),
    Plot.ruleY([0], {stroke: "black", strokeWidth: 1.8, strokeDasharray: "8,6"}),
    Plot.line(meanRows, {fx: "col", fy: "row", x: "week", y: "value", stroke: "black",
      strokeWidth: 7.2, strokeLinejoin: "round"}),
    Plot.frame({stroke: "#333333", strokeWidth: 1.6}),
    Plot.frame({fill: "#d9d9d9", stroke: "#333333", strokeWidth: 1.6, insetTop: -45.5, insetBottom: 289}),
    Plot.text(stripRows, {fx: "col", fy: "row", text: d => String(d.year), frameAnchor: "top", dy: -22.75,
      lineAnchor: "middle", fontSize: 23.5, fill: "#1a1a1a"}),
    Plot.axisX(majorX, {tickSize: 4.5, tickPadding: 9.5, fontSize: 23.5, fill: "#4d4d4d", stroke: "#333333",
      strokeWidth: 1.6, label: null, tickFormat: d => String(d)}),
    Plot.axisY(majorY, {tickSize: 4.5, tickPadding: 8.5, fontSize: 23.5, fill: "#4d4d4d", stroke: "#333333",
      strokeWidth: 1.6, label: null})
  ]
});
document.getElementById("chart").appendChild(chart);

// ---------- legend ----------
const legend = document.getElementById("legend");
groupNames.forEach((g, i) => {
  const key = document.createElement("span");
  key.className = "key";
  key.style.background = groupColors[i];
  const lab = document.createElement("span");
  lab.className = "lab";
  lab.textContent = g;
  legend.appendChild(key);
  legend.appendChild(lab);
});
</script>
</body>
</html>
